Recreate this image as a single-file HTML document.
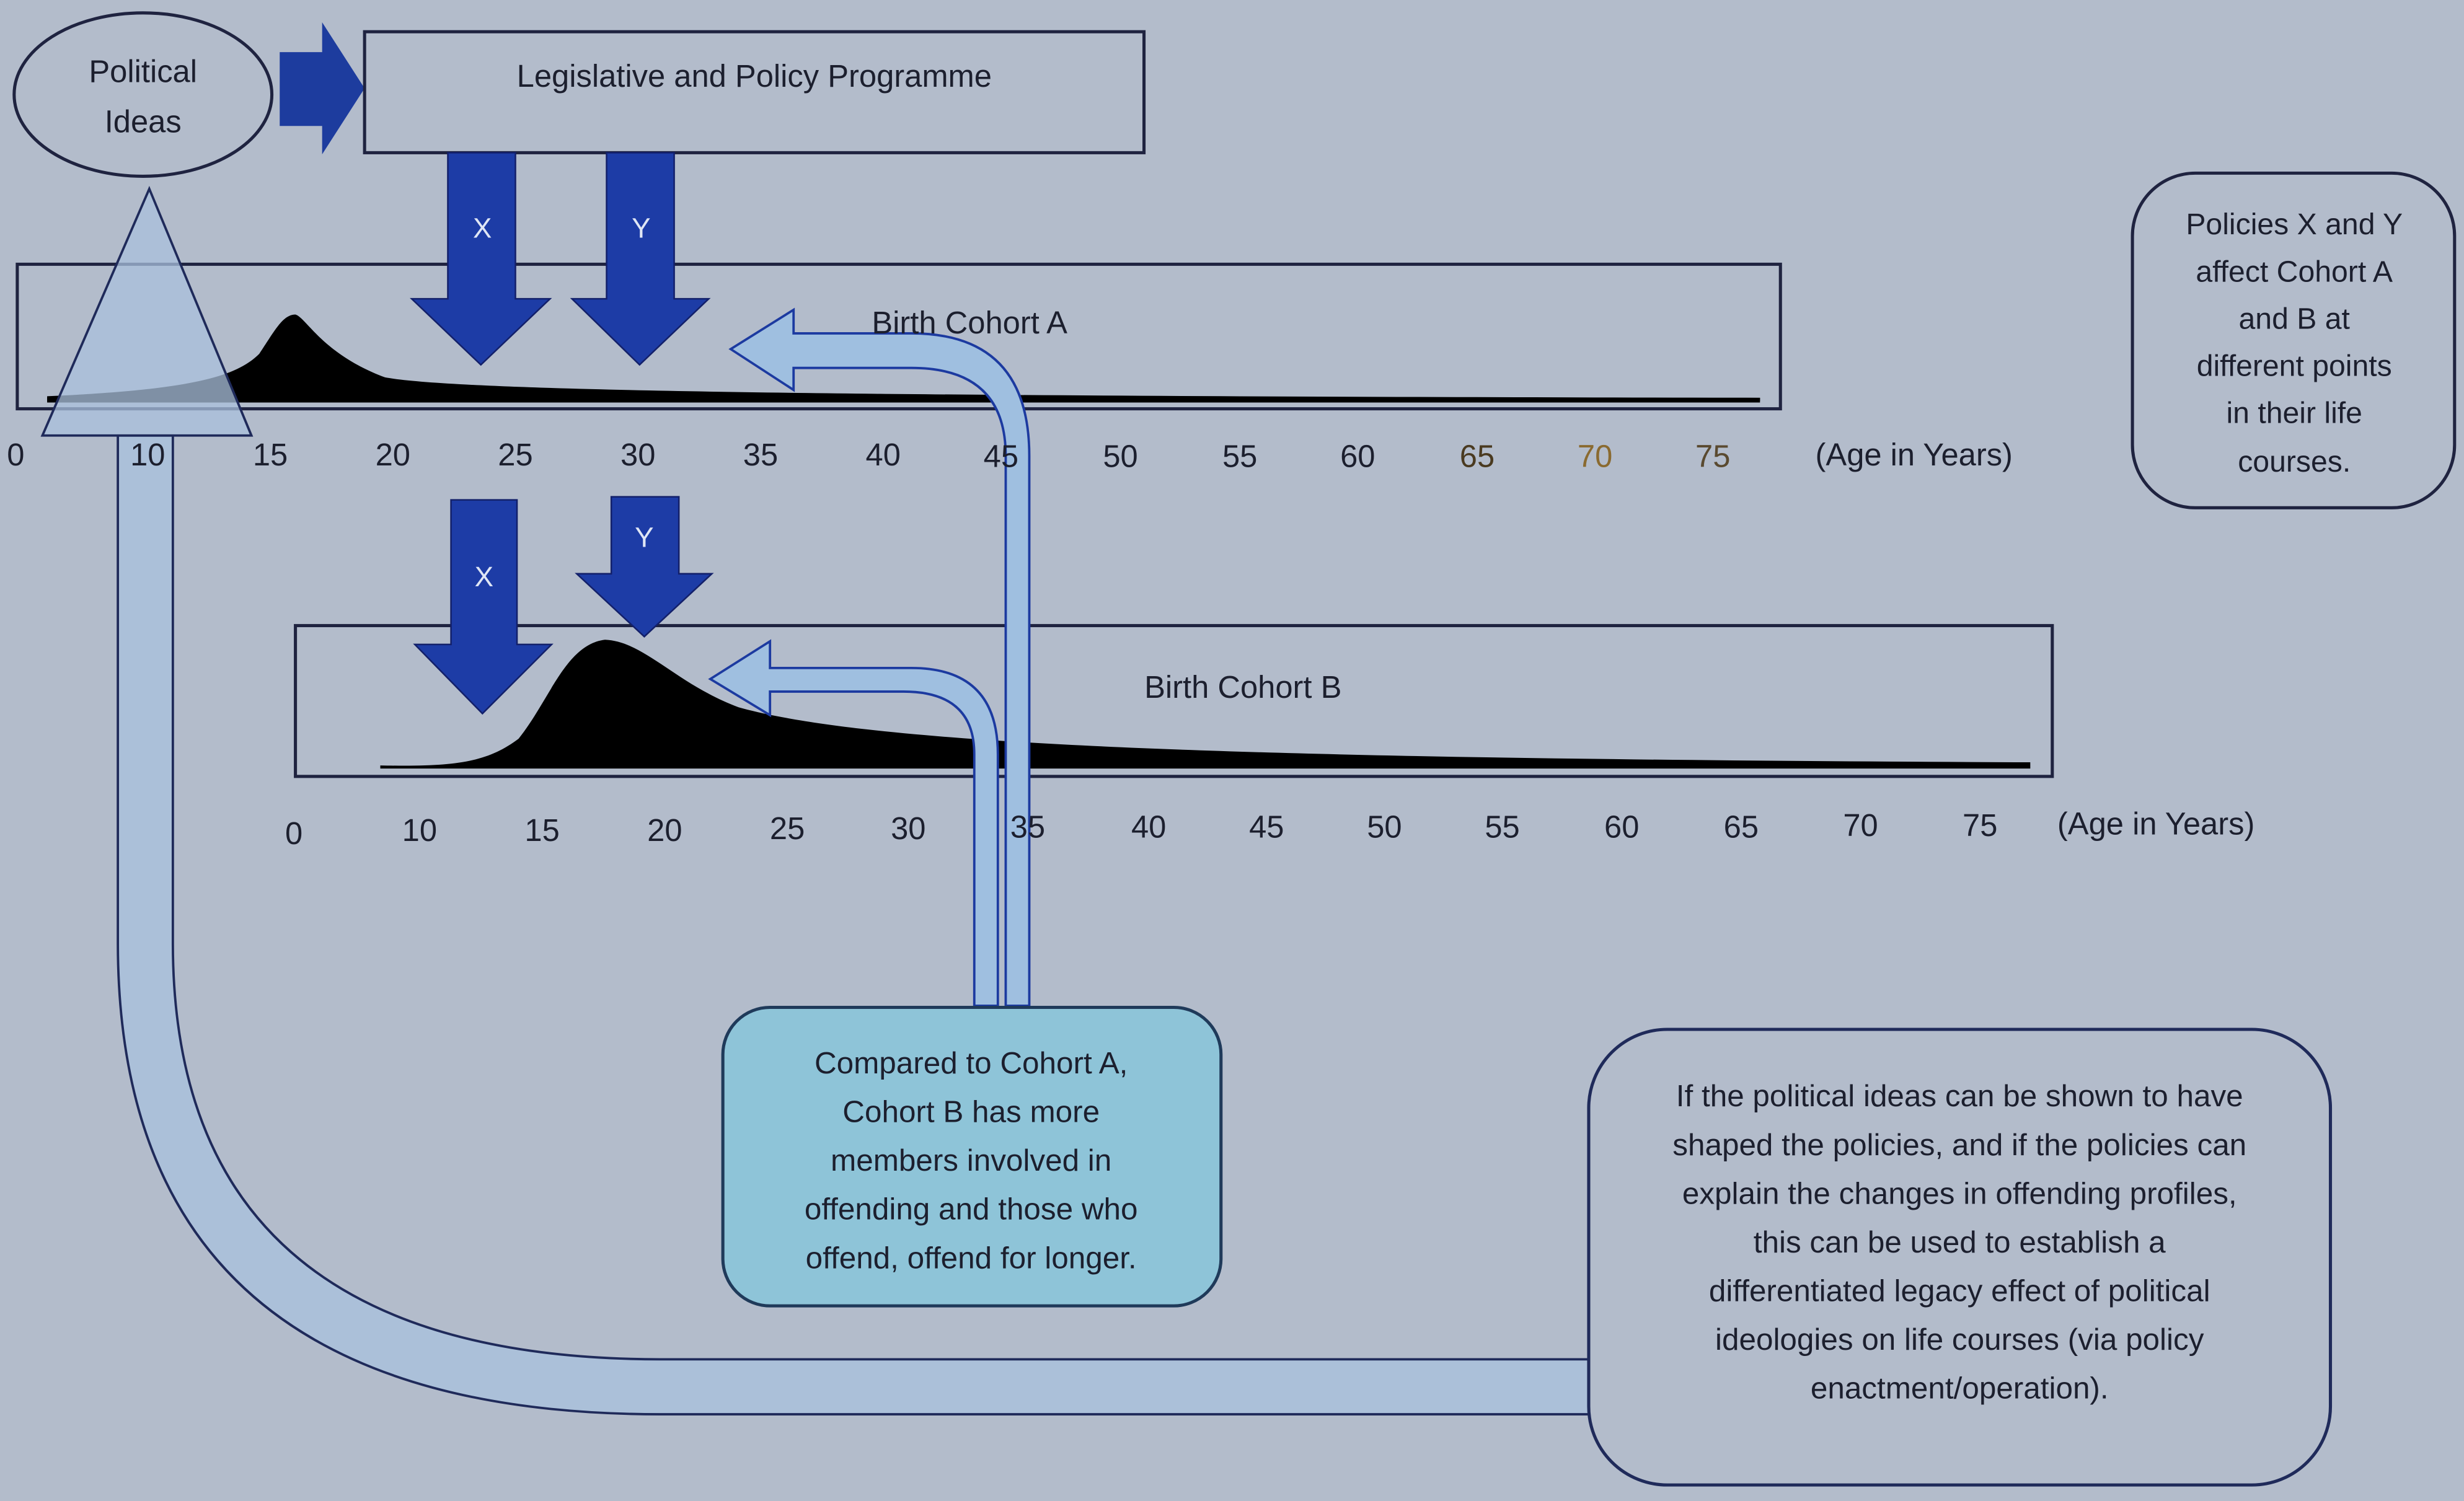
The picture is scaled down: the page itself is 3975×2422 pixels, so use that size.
<!DOCTYPE html>
<html><head><meta charset="utf-8"><style>
html,body{margin:0;padding:0;background:#b3bccb;}
svg{display:block;}
text{font-family:"Liberation Sans",sans-serif;fill:#1c1f2e;}
</style></head><body>
<svg width="3975" height="2422" viewBox="0 0 1568 955" xmlns="http://www.w3.org/2000/svg">
<rect width="1568" height="955" fill="#b3bccb"/>
<!-- big return arrow -->
<path d="M1013,900 H420 Q75,900 75,600 V277 H110 V600 Q110,865 420,865 H1013 Z" fill="#a9c0dc" fill-opacity="0.8" stroke="#1f2a5a" stroke-width="1.5"/>
<!-- boxes -->
<rect x="11" y="168" width="1122" height="92" fill="none" stroke="#1f2340" stroke-width="2"/>
<rect x="188" y="398" width="1118" height="96" fill="none" stroke="#1f2340" stroke-width="2"/>
<!-- curves -->
<path d="M30,252 C120,248 150,240 165,225 C175,210 180,200 188,200 C195,202 205,225 245,240 C300,250 600,252 1120,253 L1120,256 L30,256 Z" fill="#000"/>
<line x1="30" y1="254" x2="1120" y2="254" stroke="#000" stroke-width="2"/>
<path d="M242,487 C290,488 310,485 330,470 C350,445 360,410 385,407 C410,408 430,435 470,450 C560,475 800,483 1292,485 L1292,489 L242,489 Z" fill="#000"/>
<!-- triangle -->
<path d="M95,120 L160,277 L27,277 Z" fill="#a9c0dc" fill-opacity="0.75" stroke="#1f2a5a" stroke-width="1.5"/>
<!-- light blue arrows -->
<path d="M655,640 V290 Q655,212 580,212 H505 V197 L465,222 L505,248 V234 H580 Q640,234 640,290 V640 Z" fill="#9fbfe0" stroke="#1c3aa0" stroke-width="1.5"/>
<path d="M635,640 V480 Q635,425 580,425 H490 V408 L452,432 L490,455 V440 H575 Q620,440 620,480 V640 Z" fill="#9fbfe0" stroke="#1c3aa0" stroke-width="1.5"/>
<!-- top -->
<ellipse cx="91" cy="60" rx="82" ry="52" fill="none" stroke="#1f2340" stroke-width="2"/>
<text x="91" y="52" font-size="20" text-anchor="middle">Political</text>
<text x="91" y="84" font-size="20" text-anchor="middle">Ideas</text>
<path d="M178,33 H205 V14 L232,56 L205,98 V80 H178 Z" fill="#1d3c9e"/>
<rect x="232" y="20" width="496" height="77" fill="none" stroke="#1f2340" stroke-width="2"/>
<text x="480" y="55" font-size="20" text-anchor="middle">Legislative and Policy Programme</text>
<!-- dark blue arrows -->
<g fill="#1d3ca6" stroke="#13206a" stroke-width="1">
<path d="M285,97 H328 V190 H350 L306,232 L262,190 H285 Z"/>
<path d="M386,97 H429 V190 H451 L407,232 L364,190 H386 Z"/>
<path d="M287,318 H329 V410 H351 L307,454 L264,410 H287 Z"/>
<path d="M389,316 H432 V365 H453 L410,405 L367,365 H389 Z"/>
</g>
<g font-size="18" fill="#dfe6f5" text-anchor="middle">
<text x="307" y="151" style="fill:#dfe6f5">X</text>
<text x="408" y="151" style="fill:#dfe6f5">Y</text>
<text x="308" y="373" style="fill:#dfe6f5">X</text>
<text x="410" y="348" style="fill:#dfe6f5">Y</text>
</g>
<text x="617" y="212" font-size="20" text-anchor="middle">Birth Cohort A</text>
<text x="791" y="444" font-size="20" text-anchor="middle">Birth Cohort B</text>
<g font-size="20" text-anchor="middle">
<text x="10" y="296">0</text><text x="94" y="296">10</text><text x="172" y="296">15</text><text x="250" y="296">20</text><text x="328" y="296">25</text><text x="406" y="296">30</text><text x="484" y="296">35</text><text x="562" y="296">40</text><text x="637" y="297">45</text><text x="713" y="297">50</text><text x="789" y="297">55</text><text x="864" y="297">60</text><text x="940" y="297" style="fill:#4a3a20">65</text><text x="1015" y="297" style="fill:#8a6a30">70</text><text x="1090" y="297" style="fill:#5a4a30">75</text><text x="1218" y="296">(Age in Years)</text>
<text x="187" y="537">0</text><text x="267" y="535">10</text><text x="345" y="535">15</text><text x="423" y="535">20</text><text x="501" y="534">25</text><text x="578" y="534">30</text><text x="654" y="533">35</text><text x="731" y="533">40</text><text x="806" y="533">45</text><text x="881" y="533">50</text><text x="956" y="533">55</text><text x="1032" y="533">60</text><text x="1108" y="533">65</text><text x="1184" y="532">70</text><text x="1260" y="532">75</text><text x="1372" y="531">(Age in Years)</text>
</g>
<rect x="1357" y="110" width="205" height="213" rx="40" fill="none" stroke="#1f2340" stroke-width="2"/>
<g font-size="19" text-anchor="middle">
<text x="1460" y="149">Policies X and Y</text><text x="1460" y="179">affect Cohort A</text><text x="1460" y="209">and B at</text><text x="1460" y="239">different points</text><text x="1460" y="269">in their life</text><text x="1460" y="300">courses.</text>
</g>
<rect x="460" y="641" width="317" height="190" rx="30" fill="#8ec4d8" stroke="#1f3a5a" stroke-width="2"/>
<g font-size="19.5" text-anchor="middle">
<text x="618" y="683">Compared to Cohort A,</text><text x="618" y="714">Cohort B has more</text><text x="618" y="745">members involved in</text><text x="618" y="776">offending and those who</text><text x="618" y="807">offend, offend for longer.</text>
</g>
<rect x="1011" y="655" width="472" height="290" rx="50" fill="#b3bccb" stroke="#1f2a5a" stroke-width="2"/>
<g font-size="19.5" text-anchor="middle">
<text x="1247" y="704">If the political ideas can be shown to have</text><text x="1247" y="735">shaped the policies, and if the policies can</text><text x="1247" y="766">explain the changes in offending profiles,</text><text x="1247" y="797">this can be used to establish a</text><text x="1247" y="828">differentiated legacy effect of political</text><text x="1247" y="859">ideologies on life courses (via policy</text><text x="1247" y="890">enactment/operation).</text>
</g>
</svg>
</body></html>
